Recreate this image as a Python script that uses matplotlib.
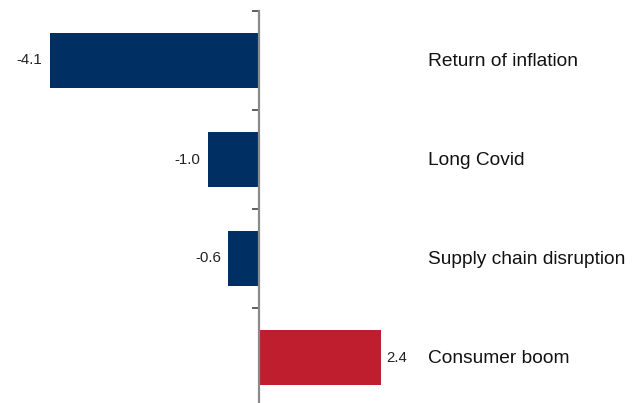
import matplotlib.pyplot as plt

plt.rcParams['font.family'] = ['Liberation Sans', 'DejaVu Sans']

scenarios = ["Return of inflation", "Long Covid", "Supply chain disruption", "Consumer boom"]
impact = [-4.1, -1.0, -0.6, 2.4]
bar_colors = ["#003063", "#003063", "#003063", "#BE1E2D"]

fig = plt.figure(figsize=(6.41, 4.03), dpi=100)
# axis runs a little past the bottom edge of the figure
ax = fig.add_axes([0, -4 / 403, 1, 396 / 403])

pos = list(range(len(scenarios)))
ax.barh(pos, impact, height=0.55, color=bar_colors, zorder=2)
ax.set_ylim(len(scenarios) - 0.5, -0.5)
ax.set_xlim(-259 / 51, 382 / 51)

for i, (name, val) in enumerate(zip(scenarios, impact)):
    off = 0.09 if val >= 0 else -0.15
    ax.text(val + off, i, f"{val:.1f}", ha="left" if val >= 0 else "right",
            va="center", fontsize=10.8, color="#222222")
    ax.text(3.31, i + 0.01, name, ha="left", va="center", fontsize=13.8, color="#111111")

for s in ["top", "right", "bottom"]:
    ax.spines[s].set_visible(False)
ax.spines["left"].set_position(("data", 0))
ax.spines["left"].set_color("#8a8a8a")
ax.spines["left"].set_linewidth(1.6)
ax.spines["left"].set_zorder(3)

ax.set_yticks([-0.5, 0.5, 1.5, 2.5, 3.5])
ax.set_yticklabels([])
ax.tick_params(axis="y", direction="out", length=5, width=1.2, color="#444444")
ax.set_xticks([])

fig.savefig("out.png", dpi=100)
